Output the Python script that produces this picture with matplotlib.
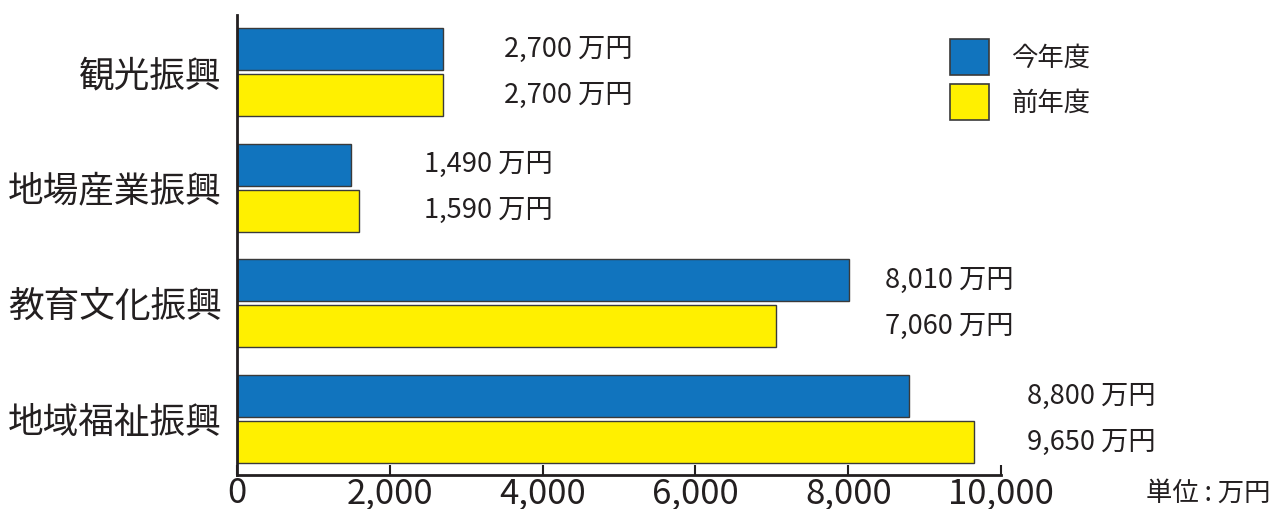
import numpy as np
import matplotlib.pyplot as plt
from matplotlib.patches import Patch
from matplotlib.ticker import FuncFormatter

plt.rcParams['font.family'] = ['Noto Sans CJK JP', 'DejaVu Sans']

categories = ['観光振興', '地場産業振興', '教育文化振興', '地域福祉振興']
this_year = [2700, 1490, 8010, 8800]
last_year = [2700, 1590, 7060, 9650]
series_names = ['今年度', '前年度']
unit_label = '単位 : 万円'

BLUE = '#1174be'
YELLOW = '#fff000'
EDGE = '#3a3a3a'
TEXT = '#231f20'

# gap between the longest bar of a group and its value labels (points)
label_gap = [44, 47, 26, 38]

fig = plt.figure(figsize=(12.73, 5.09), dpi=100)
ax = fig.add_axes([0.1862, 0.0668, 0.6002, 0.9037])

y = np.arange(len(categories))
h = 0.364
off = 0.199
ax.barh(y - off, this_year, height=h, color=BLUE, edgecolor=EDGE, linewidth=1.0)
ax.barh(y + off, last_year, height=h, color=YELLOW, edgecolor=EDGE, linewidth=1.0)

for i in range(len(categories)):
    xmax = max(this_year[i], last_year[i])
    for val, yy in ((this_year[i], y[i] - off), (last_year[i], y[i] + off)):
        ax.annotate(f'{val:,} 万円', xy=(xmax, yy), xytext=(label_gap[i], 0),
                    textcoords='offset points', ha='left', va='center',
                    fontsize=19.6, color=TEXT, annotation_clip=False)

ax.set_xlim(0, 10000)
ax.set_ylim(3.485, -0.494)
ax.set_xticks(np.arange(0, 10001, 2000))
ax.xaxis.set_major_formatter(FuncFormatter(lambda v, p: f'{int(v):,}'))
ax.set_yticks(y)
ax.set_yticklabels(categories, fontsize=25.7, color=TEXT)
ax.tick_params(axis='y', length=0, pad=11)
ax.tick_params(axis='x', direction='in', length=7, width=1.5, labelsize=25,
               colors=TEXT, pad=1)

for s in ['top', 'right']:
    ax.spines[s].set_visible(False)
for s in ['left', 'bottom']:
    ax.spines[s].set_linewidth(2)
    ax.spines[s].set_color(TEXT)

handles = [Patch(facecolor=BLUE, edgecolor=EDGE, linewidth=1.2),
           Patch(facecolor=YELLOW, edgecolor=EDGE, linewidth=1.2)]
fig.legend(handles, series_names, loc='upper left', bbox_to_anchor=(0.728, 0.97),
           frameon=False, fontsize=19, handlelength=1.45, handleheight=1.7,
           handletextpad=0.85, labelspacing=0.35, labelcolor=TEXT)

fig.text(0.998, 0.03, unit_label, ha='right', va='center', fontsize=19, color=TEXT)

fig.savefig('out.png', dpi=100)
